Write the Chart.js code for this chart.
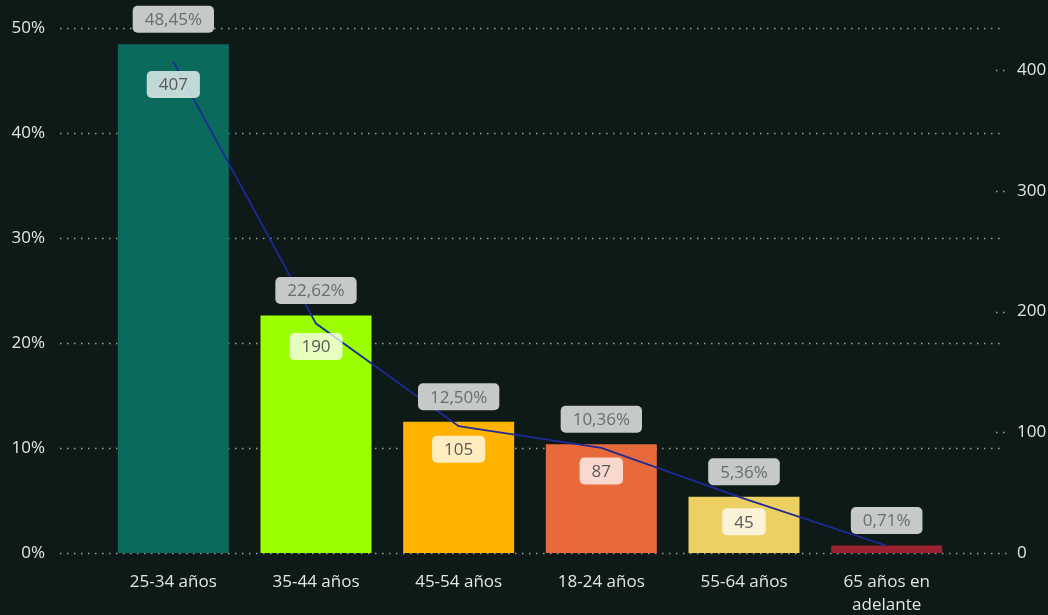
<!DOCTYPE html>
<html>
<head>
<meta charset="utf-8">
<script src="https://cdn.jsdelivr.net/npm/chart.js@4.4.1/dist/chart.umd.min.js"></script>
<style>
  html, body { margin: 0; padding: 0; background: #0d1a17; overflow: hidden; }
  canvas { display: block; }
</style>
</head>
<body>
<canvas id="chart" width="1048" height="615"></canvas>
<script>
// Age groups, share of total (left axis, %) and headcount (right axis)
const CATEGORIES = ["25-34 años", "35-44 años", "45-54 años", "18-24 años", "55-64 años", ["65 años en", "adelante"]];
const PERCENTS = [48.45, 22.62, 12.50, 10.36, 5.36, 0.71];
const COUNTS = [407, 190, 105, 87, 45, 6];
const LEFT_TICKS = [0, 10, 20, 30, 40, 50];
const RIGHT_TICKS = [0, 100, 200, 300, 400];

const BAR_COLORS = ["#0a6b5d", "#9cff00", "#ffb300", "#e8693a", "#ecd062", "#9c2132"];
const FONT = "'Open Sans', 'Noto Sans', sans-serif";

function roundBox(ctx, cx, cy, text, bg, fg) {
  ctx.font = "17px " + FONT;
  const w = ctx.measureText(text).width + 24;
  const h = 27;
  ctx.fillStyle = bg;
  ctx.beginPath();
  ctx.roundRect(cx - w / 2, cy - h / 2, w, h, 5);
  ctx.fill();
  ctx.fillStyle = fg;
  ctx.textAlign = "center";
  ctx.textBaseline = "middle";
  ctx.fillText(text, cx, cy + 1);
}

// big tick padding would otherwise eat into the plot height
function fixScale(size) {
  return (s) => {
    if (s.isHorizontal()) s.height = size;
    else s.width = size;
    s.paddingTop = 0;
    s.paddingBottom = 0;
    s.paddingLeft = 0;
    s.paddingRight = 0;
  };
}

// Dotted gridlines that run wider than the plot area, like the original
const gridPlugin = {
  id: "dottedGrid",
  beforeDatasetsDraw(chart) {
    const ctx = chart.ctx;
    const yl = chart.scales.y;
    const yr = chart.scales.y1;
    ctx.save();
    ctx.strokeStyle = "rgba(200,205,200,0.75)";
    ctx.lineWidth = 1.5;
    ctx.setLineDash([1.5, 5.5]);
    yl.ticks.forEach((t) => {
      const y = Math.round(yl.getPixelForValue(t.value)) + 0.5;
      ctx.beginPath();
      ctx.moveTo(60, y);
      ctx.lineTo(t.value === 0 ? 1008 : 1000, y);
      ctx.stroke();
    });
    yr.ticks.forEach((t) => {
      if (t.value === 0) return;
      const y = Math.round(yr.getPixelForValue(t.value)) + 0.5;
      ctx.beginPath();
      ctx.moveTo(996, y);
      ctx.lineTo(1008, y);
      ctx.stroke();
    });
    ctx.restore();
  },
};

// Data labels: percent above each bar, count just below each line point
const labelPlugin = {
  id: "boxLabels",
  afterDatasetsDraw(chart) {
    const ctx = chart.ctx;
    const bars = chart.getDatasetMeta(1).data;
    const pts = chart.getDatasetMeta(0).data;
    ctx.save();
    pts.forEach((p, i) => {
      if (i === COUNTS.length - 1) return; // hidden in the original (overlaps)
      roundBox(ctx, p.x, p.y + 23, String(COUNTS[i]), "rgba(255,255,255,0.75)", "#5a5a5a");
    });
    bars.forEach((b, i) => {
      const txt = PERCENTS[i].toFixed(2).replace(".", ",") + "%";
      roundBox(ctx, b.x, b.y - 25, txt, "#c5c9c9", "#6c6c6c");
    });
    ctx.restore();
  },
};

new Chart(document.getElementById("chart"), {
  data: {
    labels: CATEGORIES,
    datasets: [
      {
        type: "line",
        data: COUNTS,
        yAxisID: "y1",
        borderColor: "#1d2b98",
        borderWidth: 1.8,
        pointRadius: 0,
        tension: 0,
        order: 0,
      },
      {
        type: "bar",
        data: PERCENTS,
        yAxisID: "y",
        backgroundColor: BAR_COLORS,
        categoryPercentage: 1,
        barPercentage: 0.778,
        order: 1,
      },
    ],
  },
  options: {
    responsive: false,
    animation: false,
    layout: { autoPadding: false, padding: { top: 28, left: 0, right: 0, bottom: 0 } },
    plugins: { legend: { display: false }, tooltip: { enabled: false } },
    scales: {
      x: {
        grid: { display: false, drawTicks: false },
        border: { display: false },
        ticks: {
          color: "#e4e6e4",
          font: { family: FONT, size: 17, lineHeight: 1.38 },
          padding: 17,
          maxRotation: 0,
          autoSkip: false,
        },
        afterFit: fixScale(62),
      },
      y: {
        position: "left",
        min: 0,
        max: 50,
        afterBuildTicks: (s) => { s.ticks = LEFT_TICKS.map((v) => ({ value: v })); },
        grid: { display: false, drawTicks: false },
        border: { display: false },
        ticks: {
          color: "#e4e6e4",
          font: { family: FONT, size: 17 },
          padding: 57,
          callback: (v) => v + "%",
        },
        afterFit: fixScale(102),
      },
      y1: {
        position: "right",
        min: 0,
        max: 434.8,
        afterBuildTicks: (s) => { s.ticks = RIGHT_TICKS.map((v) => ({ value: v })); },
        grid: { display: false, drawTicks: false },
        border: { display: false },
        ticks: {
          color: "#e4e6e4",
          font: { family: FONT, size: 17 },
          padding: 59,
        },
        afterFit: fixScale(90),
      },
    },
  },
  plugins: [gridPlugin, labelPlugin],
});
</script>
</body>
</html>
